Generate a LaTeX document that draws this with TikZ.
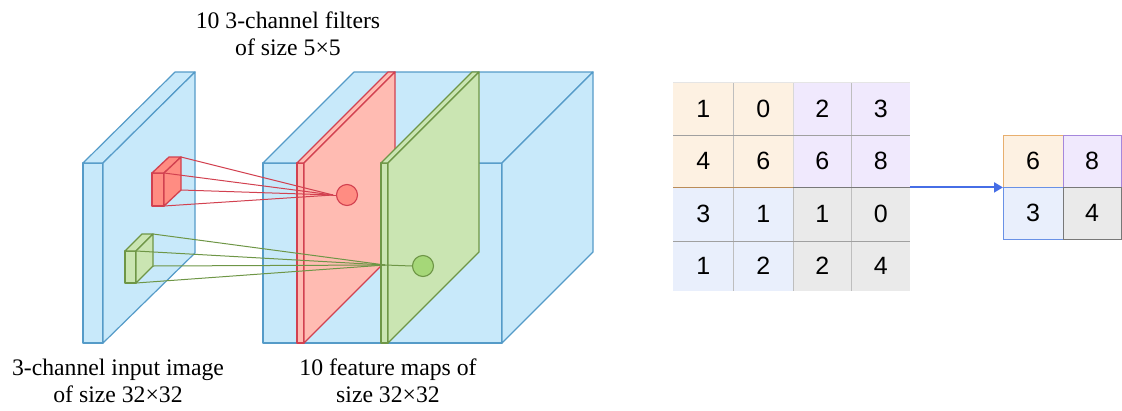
\documentclass[tikz,border=0pt]{standalone}
\usepackage{fontspec}
\setmainfont{Liberation Serif}
\newfontfamily\digitfont{Liberation Sans}
\usetikzlibrary{arrows.meta}
\definecolor{blueF}{RGB}{200,233,250}
\definecolor{blueD}{RGB}{85,155,200}
\definecolor{redF}{RGB}{255,187,178}
\definecolor{redC}{RGB}{255,140,130}
\definecolor{redD}{RGB}{210,65,80}
\definecolor{greenF}{RGB}{202,229,178}
\definecolor{greenC}{RGB}{165,215,120}
\definecolor{greenD}{RGB}{110,150,70}
\definecolor{peach}{RGB}{253,241,226}
\definecolor{lav}{RGB}{240,233,253}
\definecolor{lblue}{RGB}{233,239,252}
\definecolor{lgray}{RGB}{234,234,234}
\definecolor{arrowblue}{RGB}{70,110,230}
\definecolor{peachD}{RGB}{232,175,110}
\definecolor{lavD}{RGB}{165,135,220}
\definecolor{lblueD}{RGB}{105,145,230}
\definecolor{sepgray}{RGB}{190,190,190}
\definecolor{sepdark}{RGB}{120,120,120}
\tikzset{
  slab/.style={fill=blueF, draw=blueD, line width=1.2pt, line join=round},
  redplane/.style={fill=redF, draw=redD, line width=1.2pt, line join=round},
  redcube/.style={fill=redC, draw=redD, line width=1.3pt, line join=round},
  greenplane/.style={fill=greenF, draw=greenD, line width=1.2pt, line join=round},
  greencube/.style={fill=greenF, draw=greenD, line width=1.3pt, line join=round},
  redline/.style={draw=redD, line width=1pt},
  greenline/.style={draw=greenD, line width=1pt},
  label/.style={align=center, font=\fontsize{23.7}{27}\selectfont, inner sep=0pt},
  cell/.style={minimum width=60pt, minimum height=53pt, inner sep=0pt, font=\digitfont\fontsize{25}{25}\selectfont, anchor=north west},
  ocell/.style={minimum width=60pt, minimum height=52pt, inner sep=0pt, outer sep=0pt, font=\digitfont\fontsize{25}{25}\selectfont, anchor=north west, line width=1pt},
}
\begin{document}
\begin{tikzpicture}[x=1pt,y=-1pt]
\useasboundingbox (0,0) rectangle (1122,410);
% input slab
\draw[slab] (83,163) rectangle (103,343);
\draw[slab] (83,163) -- (103,163) -- (195,72) -- (175,72) -- cycle;
\draw[slab] (103,163) -- (195,72) -- (195,253) -- (103,343) -- cycle;
% red filter cube
\draw[redcube] (152,173) rectangle (164,206);
\draw[redcube] (152,173) -- (164,173) -- (181,157) -- (169,157) -- cycle;
\draw[redcube] (164,173) -- (181,157) -- (181,190) -- (164,206) -- cycle;
\coordinate (r1) at (181,157);
\coordinate (r2) at (164,173);
\coordinate (r3) at (181,190);
\coordinate (r4) at (164,206);
% green filter cube
\draw[greencube] (125,251) rectangle (136,283);
\draw[greencube] (125,251) -- (136,251) -- (153,234) -- (142,234) -- cycle;
\draw[greencube] (136,251) -- (153,234) -- (153,266) -- (136,283) -- cycle;
\coordinate (g1) at (153,234);
\coordinate (g2) at (136,251);
\coordinate (g3) at (153,266);
\coordinate (g4) at (136,283);
% feature map box
\draw[slab] (263,163) rectangle (502,343);
\draw[slab] (263,163) -- (502,163) -- (593,72) -- (354,72) -- cycle;
\draw[slab] (502,163) -- (593,72) -- (593,252) -- (502,343) -- cycle;
% red plane
\draw[redplane] (297,163) rectangle (304,343);
\draw[redplane] (297,163) -- (304,163) -- (395,72) -- (388,72) -- cycle;
\draw[redplane] (304,163) -- (395,72) -- (395,252) -- (304,343) -- cycle;
% red neuron and connections
\node[circle, fill=redC, draw=redD, line width=1.1pt, minimum size=21pt, inner sep=0pt] (rc) at (347,195) {};
\coordinate (rm) at (333,195);
\foreach \p in {r1,r2,r3,r4} \draw[redline] (\p) -- (rm);
\draw[redline] (rm) -- (rc.west);
% green plane
\draw[greenplane] (381,163) rectangle (388,343);
\draw[greenplane] (381,163) -- (388,163) -- (479,72) -- (472,72) -- cycle;
\draw[greenplane] (388,163) -- (479,72) -- (479,252) -- (388,343) -- cycle;
% green neuron and connections
\node[circle, fill=greenC, draw=greenD, line width=1.1pt, minimum size=21pt, inner sep=0pt] (gc) at (423,266) {};
\coordinate (gm) at (385,265);
\foreach \p in {g1,g2,g3,g4} \draw[greenline] (\p) -- (gm);
\draw[greenline] (gm) -- (gc.west);
% labels
\node[label] (t1) at (288,33.5) {10 3-channel filters\\of size 5×5};
\node[label] (t2) at (118,381) {3-channel input image\\of size 32×32};
\node[label] (t3) at (388,381) {10 feature maps of\\size 32×32};
% 4x4 grid
\node[cell, fill=peach] (c11) at (673,82) {1};
\node[cell, fill=peach] (c12) at (733,82) {0};
\node[cell, fill=lav, minimum width=58pt] (c13) at (793,82) {2};
\node[cell, fill=lav, minimum width=59pt] (c14) at (851,82) {3};
\node[cell, fill=peach, minimum height=52pt] (c21) at (673,135) {4};
\node[cell, fill=peach, minimum height=52pt] (c22) at (733,135) {6};
\node[cell, fill=lav, minimum width=58pt, minimum height=52pt] (c23) at (793,135) {6};
\node[cell, fill=lav, minimum width=59pt, minimum height=52pt] (c24) at (851,135) {8};
\node[cell, fill=lblue, minimum height=54pt] (c31) at (673,187) {3};
\node[cell, fill=lblue, minimum height=54pt] (c32) at (733,187) {1};
\node[cell, fill=lgray, minimum width=58pt, minimum height=54pt] (c33) at (793,187) {1};
\node[cell, fill=lgray, minimum width=59pt, minimum height=54pt] (c34) at (851,187) {0};
\node[cell, fill=lblue, minimum height=50pt] (c41) at (673,241) {1};
\node[cell, fill=lblue, minimum height=50pt] (c42) at (733,241) {2};
\node[cell, fill=lgray, minimum width=58pt, minimum height=50pt] (c43) at (793,241) {2};
\node[cell, fill=lgray, minimum width=59pt, minimum height=50pt] (c44) at (851,241) {4};
% grid separators
\draw[sepgray, line width=0.8pt] (c11.north east) -- (c41.south east);
\draw[sepgray, line width=0.8pt] (c13.north east) -- (c43.south east);
\draw[sepgray!60, line width=0.8pt] (c12.north east) -- (c22.south east);
\draw[sepgray, line width=0.8pt] (c32.north east) -- (c42.south east);
\draw[sepgray!40, line width=0.6pt] (c11.north west) -- (c14.north east);
\draw[sepdark!70, line width=0.9pt] (c11.south west) -- (c14.south east);
\draw[peachD!80!black, line width=1pt] (c21.south west) -- (c22.south east);
\draw[sepdark, line width=1pt] (c23.south west) -- (c24.south east);
\draw[sepdark!70, line width=0.9pt] (c31.south west) -- (c34.south east);
% output 2x2 grid
\node[ocell, fill=peach, draw=peachD] (o11) at (1003,135) {6};
\node[ocell, fill=lav, draw=lavD, minimum width=58pt] (o12) at (1063,135) {8};
\node[ocell, fill=lblue, draw=lblueD] (o21) at (1003,187) {3};
\node[ocell, fill=lgray, draw=sepdark, minimum width=58pt] (o22) at (1063,187) {4};
% arrow
\draw[arrowblue, line width=2pt, -{Triangle[length=9pt,width=10pt]}] (c24.south east) -- (c24.south east -| o11.west);
\end{tikzpicture}
\end{document}
